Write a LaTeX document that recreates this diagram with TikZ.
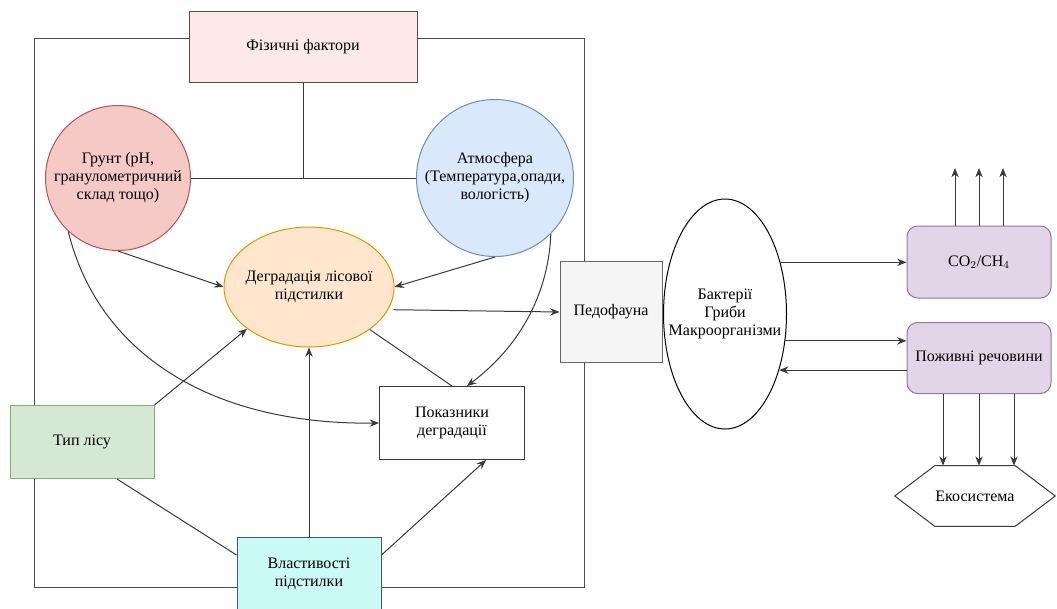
\documentclass[tikz,border=0pt]{standalone}
\usepackage{fontspec}
\setmainfont{Liberation Serif}
\newfontfamily\tmsfont{Liberation Serif}
\usetikzlibrary{arrows.meta,shapes.geometric,calc}
\def\pu{0.75pt}
\definecolor{lineC}{HTML}{3A3A3A}
\definecolor{physF}{HTML}{FDE9E9}
\definecolor{physD}{HTML}{4D4D4D}
\definecolor{soilF}{HTML}{F4C9C6}
\definecolor{soilD}{HTML}{B85450}
\definecolor{atmF}{HTML}{DAE8FC}
\definecolor{atmD}{HTML}{6C8EBF}
\definecolor{degF}{HTML}{FFE6CC}
\definecolor{degD}{HTML}{D79B00}
\definecolor{forF}{HTML}{D5E8D4}
\definecolor{forD}{HTML}{82B366}
\definecolor{propF}{HTML}{C9FAF5}
\definecolor{propD}{HTML}{3F5F5F}
\definecolor{pedF}{HTML}{F5F5F5}
\definecolor{pedD}{HTML}{666666}
\definecolor{purF}{HTML}{E1D5E7}
\definecolor{purD}{HTML}{9673A6}
\begin{document}
\begin{tikzpicture}[x=0.75pt,y=-0.75pt,
  every node/.style={font=\tmsfont\fontsize{12}{13.5}\selectfont, align=center, inner sep=0pt},
  shp/.style={line width=0.75pt},
  conn/.style={draw=lineC, line width=0.75pt},
  arr/.style={conn, -{Stealth[length=7pt,width=5.5pt]}}]
\useasboundingbox (0,0) rectangle (1057,608);
\draw[draw=physD, line width=0.75pt] (34,38) rectangle (584,587);
% nodes
\node[shp, draw=physD, fill=physF, minimum width=228*\pu, minimum height=71*\pu] (phys) at (303,46.5) {Фізичні фактори};
\node[shp, circle, draw=soilD, fill=soilF, minimum size=145*\pu] (soil) at (118,178) {Грунт (pH,\\гранулометричний\\склад тощо)};
\node[shp, circle, draw=atmD, fill=atmF, minimum size=157*\pu] (atm) at (495,178) {Атмосфера\\(Температура,опади,\\вологість)};
\node[shp, ellipse, draw=degD, fill=degF, minimum width=170*\pu, minimum height=120*\pu] (degr) at (309,287) {};
\node (degrT) at (degr.center) {Деградація лісової\\підстилки};
\node[shp, draw=forD, fill=forF, minimum width=144*\pu, minimum height=73*\pu] (forest) at (82,442) {Тип лісу};
\node[shp, draw=lineC, fill=white, minimum width=145*\pu, minimum height=73*\pu] (ind) at (452,423) {Показники\\деградації};
\node[shp, draw=propD, fill=propF, minimum width=144*\pu, minimum height=74*\pu] (prop) at (309,574) {Властивості\\підстилки};
\node[shp, draw=pedD, fill=pedF, minimum width=102*\pu, minimum height=101*\pu] (pedo) at (611,312) {Педофауна};
\node[shp, ellipse, draw=black, fill=white, minimum width=123*\pu, minimum height=230*\pu] (bact) at (725,314) {};
\node (bactT) at (bact.center) {Бактерії\\Гриби\\Макроорганізми};
\node[shp, draw=purD, fill=purF, rounded corners=8pt, minimum width=144*\pu, minimum height=72*\pu] (co2) at (979,262) {CO$_2$/CH$_4$};
\node[shp, draw=purD, fill=purF, rounded corners=8pt, minimum width=144*\pu, minimum height=71*\pu] (nutr) at (979,358) {Поживні речовини};
\node[minimum width=160*\pu, minimum height=60*\pu] (eco) at (975,496) {Екосистема};
\draw[shp, draw=lineC] (eco.west) -- ($(eco.north west)+(40,0)$) -- ($(eco.north east)+(-40,0)$) -- (eco.east) -- ($(eco.south east)+(-40,0)$) -- ($(eco.south west)+(40,0)$) -- cycle;
% connectors left part
\coordinate (hub) at (303,178);
\draw[conn] (phys.south) -- (hub);
\draw[conn] (soil.east) -- (atm.west);
\draw[arr] (soil.south) -- (degr.west);
\draw[arr] (atm.south) -- (degr.east);
\draw[arr] (soil.-133) .. controls (100,360) and (220,425) .. (ind.west);
\draw[arr] (atm.-45) .. controls (548,300) and (515,350) .. ([xshift=15*\pu]ind.north);
\draw[conn] (degr.-35.6) -- (ind.north);
\draw[arr] (forest.north east) -- (degr.-146.5);
\draw[conn] ([xshift=35*\pu]forest.south) -- ([yshift=19*\pu]prop.west);
\draw[arr] (prop.north) -- (degr.south);
\draw[arr] ([yshift=19*\pu]prop.east) -- ([xshift=34*\pu]ind.south);
\draw[arr] ([xshift=4pt]degr.-16.3) -- (pedo.west);
% right part
\draw[arr] (bact.43.4) -- (bact.43.4 -| co2.west);
\draw[arr] (bact.-24.3) -- (bact.-24.3 -| nutr.west);
\draw[arr] (nutr.west |- bact.-46.2) -- (bact.-46.2);
\coordinate (u1) at (955,168);
\coordinate (u2) at (979,168);
\coordinate (u3) at (1003,168);
\draw[arr] (co2.north -| u1) -- (u1);
\draw[arr] (co2.north -| u2) -- (u2);
\draw[arr] (co2.north -| u3) -- (u3);
\coordinate (d1) at (943,0);
\coordinate (d2) at (979,0);
\coordinate (d3) at (1014,0);
\draw[arr] (nutr.south -| d1) -- (eco.north -| d1);
\draw[arr] (nutr.south -| d2) -- (eco.north -| d2);
\draw[arr] (nutr.south -| d3) -- (eco.north -| d3);
\end{tikzpicture}
\end{document}
